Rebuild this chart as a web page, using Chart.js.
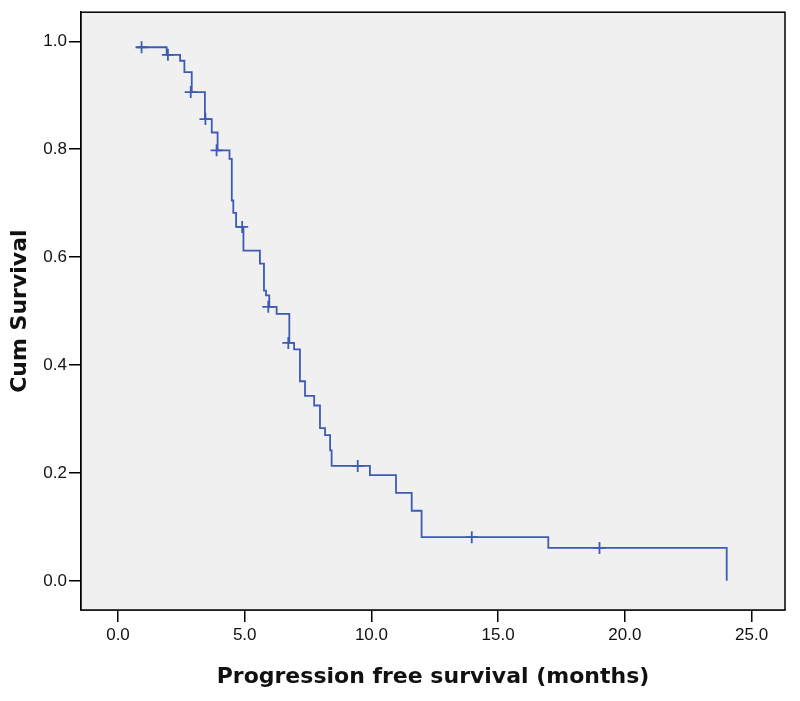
<!DOCTYPE html>
<html>
<head>
<meta charset="utf-8">
<script src="https://cdn.jsdelivr.net/npm/chart.js@4.4.1/dist/chart.umd.min.js"></script>
<style>
  html, body { margin: 0; padding: 0; background: #fff; }
  #wrap { width: 800px; height: 701px; }
</style>
</head>
<body>
<div id="wrap"><canvas id="kmChart" width="800" height="701"></canvas></div>
<script>
// Kaplan-Meier steps: time (months) and cumulative survival after each drop
const eventTimes = [0.74, 1.92, 2.45, 2.62, 2.91, 3.43, 3.70, 3.93, 4.40, 4.49, 4.55, 4.66,
    4.95, 5.60, 5.76, 5.84, 5.97, 6.26, 6.76, 6.95, 7.18, 7.38, 7.74, 7.97, 8.17, 8.37,
    8.43, 9.94, 10.97, 11.59, 11.98, 16.98, 24.02];
const survival = [0.989, 0.975, 0.964, 0.943, 0.906, 0.856, 0.831, 0.798, 0.782, 0.705, 0.682, 0.656,
    0.612, 0.588, 0.538, 0.529, 0.508, 0.495, 0.441, 0.429, 0.370, 0.343, 0.325, 0.283, 0.270, 0.242,
    0.213, 0.196, 0.163, 0.130, 0.081, 0.061, 0.0];

// Censored observations (+ marks)
const censorTimes = [0.93, 1.97, 2.87, 3.45, 3.89, 4.90, 5.93, 6.72, 9.46, 13.96, 19.0];
const censorSurvival = [0.989, 0.975, 0.906, 0.856, 0.798, 0.656, 0.508, 0.441, 0.213, 0.081, 0.061];

// Tick labels
const xTicks = [0, 5, 10, 15, 20, 25];
const yTicks = [0, 0.2, 0.4, 0.6, 0.8, 1.0];

const lineColor = '#3d5bb5';

// Grauer Hintergrund und Rahmen fuer den Plotbereich
const plotFrame = {
    id: 'plotFrame',
    beforeDatasetsDraw(chart) {
        const { ctx, chartArea: a } = chart;
        ctx.save();
        ctx.fillStyle = '#f0f0f0';
        ctx.fillRect(a.left, a.top, a.right - a.left, a.bottom - a.top);
        ctx.restore();
    },
    afterDraw(chart) {
        const { ctx, chartArea: a } = chart;
        ctx.save();
        ctx.strokeStyle = '#000';
        ctx.lineWidth = 1.5;
        ctx.strokeRect(a.left, a.top, a.right - a.left, a.bottom - a.top);
        ctx.restore();
    }
};

const curvePoints = eventTimes.map((t, i) => ({ x: t, y: survival[i] }));
const censorPoints = censorTimes.map((t, i) => ({ x: t, y: censorSurvival[i] }));

new Chart(document.getElementById('kmChart'), {
    type: 'line',
    data: {
        datasets: [{
            data: curvePoints,
            borderColor: lineColor,
            borderWidth: 1.8,
            stepped: true,
            pointRadius: 0,
            fill: false
        }, {
            data: censorPoints,
            showLine: false,
            pointStyle: 'cross',
            pointRadius: 6,
            pointBorderWidth: 1.8,
            pointBorderColor: lineColor,
            borderColor: lineColor
        }]
    },
    options: {
        responsive: false,
        animation: false,
        devicePixelRatio: 1,
        layout: { padding: { left: 0, right: 15, top: 10, bottom: 0 } },
        plugins: {
            legend: { display: false },
            tooltip: { enabled: false }
        },
        scales: {
            x: {
                type: 'linear',
                min: -1.46,
                max: 26.32,
                afterBuildTicks: scale => { scale.ticks = xTicks.map(v => ({ value: v })); },
                afterFit: scale => { scale.height = 91; },
                grid: { drawOnChartArea: false, drawTicks: true, tickLength: 12, color: '#000', lineWidth: 1.5 },
                border: { display: true, color: '#000', width: 1.5 },
                ticks: {
                    padding: 3,
                    color: '#111',
                    font: { family: 'Liberation Sans', size: 17 },
                    callback: v => v.toFixed(1)
                },
                title: {
                    display: true,
                    text: 'Progression free survival (months)',
                    color: '#111',
                    font: { family: 'DejaVu Sans', size: 22, weight: 'bold', lineHeight: 1.2 },
                    padding: { top: 0, bottom: 11 }
                }
            },
            y: {
                type: 'linear',
                min: -0.054,
                max: 1.054,
                afterBuildTicks: scale => { scale.ticks = yTicks.map(v => ({ value: v })); },
                afterFit: scale => { scale.width = 81; },
                grid: { drawOnChartArea: false, drawTicks: true, tickLength: 12, color: '#000', lineWidth: 1.5 },
                border: { display: true, color: '#000', width: 1.5 },
                ticks: {
                    padding: 2,
                    color: '#111',
                    font: { family: 'Liberation Sans', size: 17 },
                    callback: v => v.toFixed(1)
                },
                title: {
                    display: true,
                    text: 'Cum Survival',
                    color: '#111',
                    font: { family: 'DejaVu Sans', size: 22, weight: 'bold', lineHeight: 1.2 },
                    padding: { top: 7, bottom: 0 }
                }
            }
        }
    },
    plugins: [plotFrame]
});
</script>
</body>
</html>
